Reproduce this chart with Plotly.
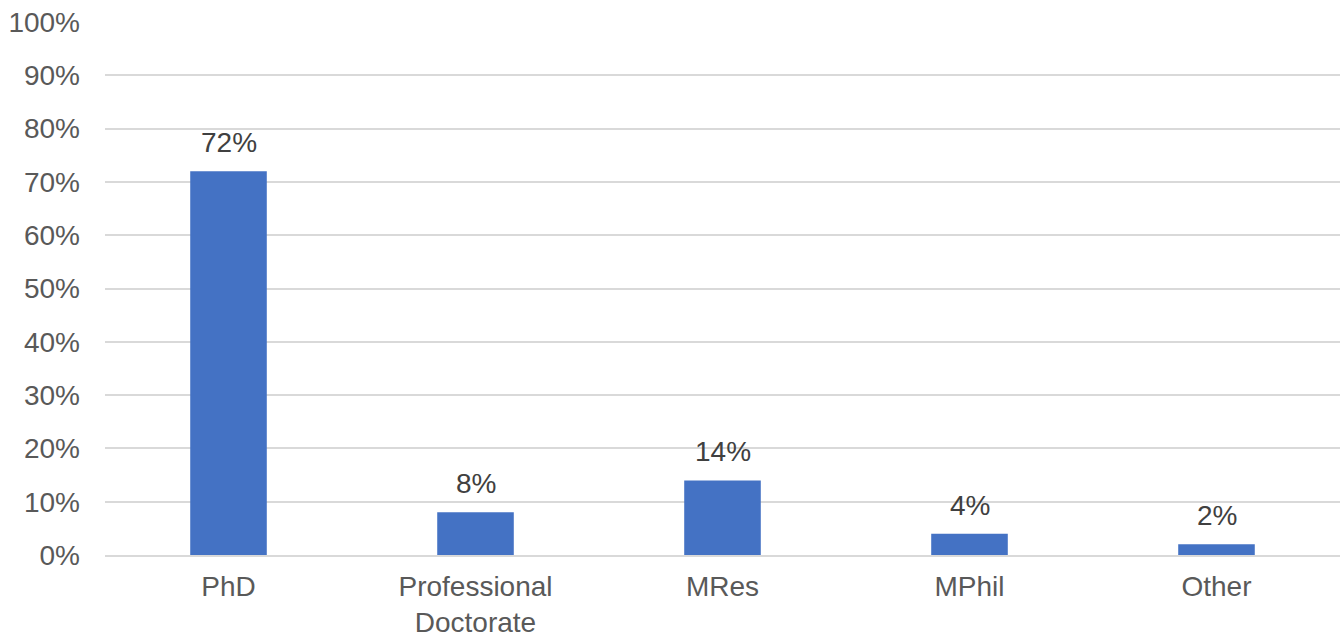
import plotly.graph_objects as go

categories = ["PhD", "Professional<br>Doctorate", "MRes", "MPhil", "Other"]
values = [72, 8, 14, 4, 2]
labels = ["72%", "8%", "14%", "4%", "2%"]
tick_vals = [0, 10, 20, 30, 40, 50, 60, 70, 80, 90, 100]
tick_text = ["0%", "10%", "20%", "30%", "40%", "50%", "60%", "70%", "80%", "90%", "100%"]

FONT = "Liberation Sans, Arial, sans-serif"

fig = go.Figure()
fig.add_trace(go.Bar(x=categories, y=values, marker=dict(color="#4472C4", line=dict(width=0)),
                     hoverinfo="skip"))

for c, v, t in zip(categories, values, labels):
    fig.add_annotation(x=c, y=v, text=t, showarrow=False, yanchor="bottom", yshift=11,
                       font=dict(family=FONT, size=28, color="#404040"))

fig.update_layout(
    width=1342, height=637,
    margin=dict(l=105, r=2, t=22, b=82),
    paper_bgcolor="white", plot_bgcolor="white",
    bargap=0.69,
    showlegend=False,
    font=dict(family=FONT, size=28, color="#595959"),
)
fig.update_yaxes(range=[0, 100], tickvals=tick_vals, ticktext=tick_text,
                 showgrid=True, gridcolor="#d9d9d9", gridwidth=2,
                 zeroline=False, showline=False, ticks="", ticklabelstandoff=24,
                 automargin=False,
                 tickfont=dict(family=FONT, size=28, color="#595959"))
fig.update_xaxes(showgrid=False, showline=True, linecolor="#d9d9d9", linewidth=2,
                 ticks="", ticklabelstandoff=5, automargin=False,
                 tickfont=dict(family=FONT, size=28, color="#595959"))

fig.write_html("out.html")
